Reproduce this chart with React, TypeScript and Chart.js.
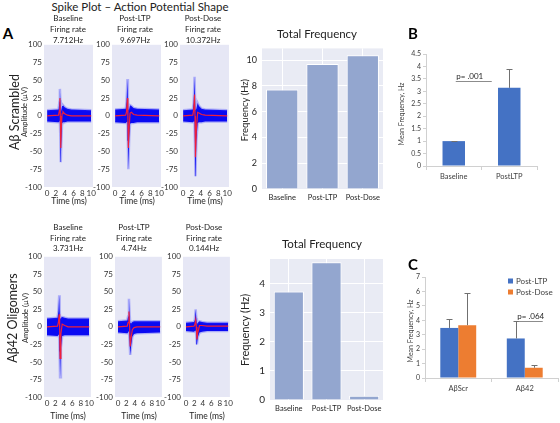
import React, { useEffect, useRef } from "react";
import { Chart, registerables } from "chart.js";

Chart.register(...registerables);
Chart.defaults.font.family = "Lato, 'Open Sans', sans-serif";

// ---------------- data ----------------
const spikeTimeTicks = [0, 2, 4, 6, 8, 10];
const amplitudeTicks = [-100, -75, -50, -25, 0, 25, 50, 75, 100];
const conditions = ["Baseline", "Post-LTP", "Post-Dose"];

// Aβ Scrambled – Baseline
const scrBaseTime = [0, 2.6, 2.8, 2.9, 3.0, 3.1, 3.2, 3.4, 3.6, 4.0, 4.6, 5.5, 10];
const scrBaseUpper = [8, 9, 20, 38, 22, 5, 8, 14, 15, 12, 10, 9, 8];
const scrBaseLower = [-8, -9, -8, -6, -30, -65, -40, -10, -9, -9, -8, -8, -8];
const scrBaseMean = [0, 1, 8, 25, 0, -45, -20, 3, 6, 3, 1, 0, 0];
// Aβ Scrambled – Post-LTP
const scrLtpTime = [0, 2.4, 2.6, 2.8, 2.9, 3.0, 3.2, 3.4, 3.7, 4.2, 5, 10];
const scrLtpUpper = [9, 10, 20, 52, 25, 8, 10, 15, 14, 11, 10, 9];
const scrLtpLower = [-9, -10, -9, -8, -35, -75, -30, -11, -10, -10, -9, -9];
const scrLtpMean = [0, 1, 6, 25, 0, -45, -15, 4, 5, 2, 1, 0];
// Aβ Scrambled – Post-Dose
const scrDoseTime = [0, 2.2, 2.4, 2.6, 2.7, 2.8, 3.0, 3.3, 3.6, 4.2, 5, 10];
const scrDoseUpper = [8, 9, 18, 55, 25, 8, 10, 18, 14, 10, 9, 8];
const scrDoseLower = [-8, -9, -8, -8, -40, -85, -35, -10, -9, -9, -8, -8];
const scrDoseMean = [0, 1, 8, 30, 0, -58, -20, 5, 4, 2, 1, 0];
// Aβ42 Oligomers – Baseline
const oliBaseTime = [0, 2.5, 2.7, 2.9, 3.0, 3.1, 3.3, 3.6, 4.2, 5, 10];
const oliBaseUpper = [12, 13, 22, 45, 25, 12, 13, 14, 13, 12, 12];
const oliBaseLower = [-12, -13, -12, -10, -35, -72, -30, -13, -12, -12, -12];
const oliBaseMean = [0, 1, 6, 18, 0, -45, -10, 4, 2, 0, 0];
// Aβ42 Oligomers – Post-LTP
const oliLtpTime = [0, 2.2, 2.4, 2.6, 2.75, 2.9, 3.1, 3.4, 3.8, 4.5, 10];
const oliLtpUpper = [8, 9, 15, 40, 18, 6, 5, 7, 8, 8, 8];
const oliLtpLower = [-8, -9, -8, -6, -20, -40, -28, -14, -10, -9, -8];
const oliLtpMean = [0, 1, 6, 22, 2, -28, -16, -4, -1, 0, 0];
// Aβ42 Oligomers – Post-Dose
const oliDoseTime = [0, 1.9, 2.1, 2.3, 2.45, 2.6, 2.8, 3.2, 3.8, 5, 10];
const oliDoseUpper = [6, 7, 10, 25, 12, 4, 6, 8, 7, 6, 6];
const oliDoseLower = [-6, -7, -6, -5, -12, -25, -15, -8, -7, -6, -6];
const oliDoseMean = [0, 1, 3, 10, 0, -18, -8, 2, 2, 1, 1];

// Total frequency (Hz)
const scrTotalFreq = [7.712, 9.697, 10.372];
const oliTotalFreq = [3.731, 4.74, 0.144];

// Panel B
const bCategories = ["Baseline", "PostLTP"];
const bMeans = [1.0, 3.14];
const bErrors = [0.02, 0.74];

// Panel C
const cCategories = ["AβScr", "Aβ42"];
const cPostLTP = [3.47, 2.74];
const cPostLTPErr = [0.65, 1.19];
const cPostDose = [3.66, 0.71];
const cPostDoseErr = [2.25, 0.19];

// ---------------- plugins ----------------
const bgPlugin = {
  id: "plotBg",
  beforeDraw(chart: any, _a: any, opts: any) {
    if (!opts || !opts.color) return;
    const { ctx, chartArea } = chart;
    ctx.save();
    ctx.fillStyle = opts.color;
    ctx.fillRect(chartArea.left, chartArea.top, chartArea.right - chartArea.left, chartArea.bottom - chartArea.top);
    ctx.restore();
  },
};

const errorBarPlugin = {
  id: "errorBars",
  afterDatasetsDraw(chart: any) {
    const ctx = chart.ctx;
    const yScale = chart.scales.y;
    chart.data.datasets.forEach((ds: any, i: number) => {
      if (!ds.errors) return;
      const meta = chart.getDatasetMeta(i);
      meta.data.forEach((el: any, j: number) => {
        const v = ds.data[j];
        const e = ds.errors[j];
        const yTop = Math.round(yScale.getPixelForValue(v + e)) + 0.5;
        const x = Math.round(el.x) + 0.5;
        ctx.save();
        ctx.strokeStyle = "#707070";
        ctx.lineWidth = 1;
        ctx.beginPath();
        ctx.moveTo(x, el.y);
        ctx.lineTo(x, yTop);
        ctx.moveTo(x - 3, yTop);
        ctx.lineTo(x + 3, yTop);
        ctx.stroke();
        ctx.restore();
      });
    });
  },
};

const annotPlugin = {
  id: "pAnnot",
  afterDatasetsDraw(chart: any, _a: any, opts: any) {
    if (!opts || !opts.items) return;
    const ctx = chart.ctx;
    const xs = chart.scales.x;
    const ys = chart.scales.y;
    opts.items.forEach((it: any) => {
      const cx = xs.getPixelForValue(it.cat);
      const y = Math.round(ys.getPixelForValue(it.value)) + 0.5;
      ctx.save();
      ctx.strokeStyle = "#8c8c8c";
      ctx.lineWidth = 1;
      ctx.beginPath();
      ctx.moveTo(cx + it.from, y);
      ctx.lineTo(cx + it.to, y);
      ctx.stroke();
      ctx.fillStyle = "#262626";
      ctx.font = "8px Lato, sans-serif";
      ctx.textAlign = "center";
      ctx.textBaseline = "bottom";
      ctx.fillText(it.text, cx + it.textAt, y - 1);
      ctx.restore();
    });
  },
};

const boxLegendPlugin = {
  id: "boxLegend",
  afterDraw(chart: any, _a: any, opts: any) {
    if (!opts || opts.x === undefined) return;
    const ctx = chart.ctx;
    chart.data.datasets.forEach((ds: any, i: number) => {
      const cy = opts.y + i * opts.gap;
      ctx.save();
      ctx.fillStyle = ds.backgroundColor;
      ctx.fillRect(opts.x, cy - 2.5, 5, 5);
      ctx.fillStyle = "#404040";
      ctx.font = "8px Lato, sans-serif";
      ctx.textAlign = "left";
      ctx.textBaseline = "middle";
      ctx.fillText(ds.label, opts.x + 8, cy);
      ctx.restore();
    });
  },
};

// ---------------- config builders ----------------
function spikeConfig(time: number[], upper: number[], lower: number[], mean: number[], wy: number, pt: number, pr: number, hx: number) {
  const pts = (ys: number[]) => time.map((t, i) => ({ x: t, y: ys[i] }));
  return {
    type: "line",
    data: {
      datasets: [
        { data: pts(upper), borderColor: "rgba(40,40,255,0.3)", borderWidth: 2.5, backgroundColor: "#0a0af2", fill: "+1", pointRadius: 0, tension: 0, order: 1 },
        { data: pts(lower), borderColor: "rgba(40,40,255,0.3)", borderWidth: 2.5, fill: false, pointRadius: 0, tension: 0, order: 1 },
        { data: pts(mean), borderColor: "#f0203a", borderWidth: 1.2, fill: false, pointRadius: 0, tension: 0, order: 0 },
      ],
    },
    options: {
      animation: false,
      responsive: false,
      events: [],
      layout: { autoPadding: false, padding: { top: pt, right: pr, left: 0, bottom: 0 } },
      plugins: { legend: { display: false }, tooltip: { enabled: false }, plotBg: { color: "#e6e7f5" } },
      scales: {
        x: {
          type: "linear",
          min: -0.7,
          max: 10.4,
          afterBuildTicks: (s: any) => { s.ticks = spikeTimeTicks.map((v) => ({ value: v })); },
          afterFit: (s: any) => { s.height = hx; },
          grid: { display: false, drawTicks: false },
          border: { display: false },
          ticks: { font: { size: 8 }, color: "#333", padding: 2, maxRotation: 0, autoSkip: false },
        },
        y: {
          min: -100,
          max: 100,
          afterBuildTicks: (s: any) => { s.ticks = amplitudeTicks.map((v) => ({ value: v })); },
          afterFit: (s: any) => { s.width = wy; },
          grid: { display: false, drawTicks: false },
          border: { display: false },
          ticks: { font: { size: 8 }, color: "#333", padding: 2, autoSkip: false },
        },
      },
    },
    plugins: [bgPlugin],
  };
}

function totalFreqConfig(values: number[], yMax: number, yStep: number, yFont: number, wy: number, pt: number, pr: number, hx: number) {
  return {
    type: "bar",
    data: {
      labels: conditions,
      datasets: [{ data: values, backgroundColor: "#93a6cf", borderColor: "#ffffff", borderWidth: 1, barPercentage: 0.8, categoryPercentage: 1 }],
    },
    options: {
      animation: false,
      responsive: false,
      events: [],
      layout: { autoPadding: false, padding: { top: pt, right: pr, left: 0, bottom: 0 } },
      plugins: { legend: { display: false }, tooltip: { enabled: false }, plotBg: { color: "#e9ebf4" } },
      scales: {
        x: {
          afterFit: (s: any) => { s.height = hx; },
          grid: { color: "#ffffff", offset: false, drawTicks: false },
          border: { display: false },
          ticks: { font: { size: 7.5 }, color: "#262626", padding: 4, maxRotation: 0, autoSkip: false },
        },
        y: {
          min: 0,
          max: yMax,
          afterBuildTicks: (s: any) => {
            s.ticks = s.ticks.filter((t: any) => Math.abs(t.value / yStep - Math.round(t.value / yStep)) < 1e-6);
          },
          afterFit: (s: any) => { s.width = wy; },
          grid: { color: "#ffffff", drawTicks: false },
          border: { display: false },
          ticks: { stepSize: yStep, font: { size: yFont }, color: "#262626", padding: 5 },
        },
      },
    },
    plugins: [bgPlugin],
  };
}

function excelAxes(yMax: number, yStep: number, wy: number, hx: number) {
  return {
    x: {
      afterFit: (s: any) => { s.height = hx; },
      grid: { display: true, drawOnChartArea: false, drawTicks: true, tickLength: 4, color: "#d0d0d0", offset: true },
      border: { color: "#d0d0d0" },
      ticks: { font: { size: 7.5 }, color: "#404040", padding: 2, maxRotation: 0, autoSkip: false },
    },
    y: {
      min: 0,
      max: yMax,
      afterFit: (s: any) => { s.width = wy; },
      grid: { display: true, drawOnChartArea: false, drawTicks: true, tickLength: 3, color: "#d0d0d0" },
      border: { color: "#d0d0d0" },
      ticks: { stepSize: yStep, font: { size: 7 }, color: "#404040", padding: 2, callback: (v: any) => String(Number(v)) },
    },
  };
}

function panelBConfig() {
  return {
    type: "bar",
    data: {
      labels: bCategories,
      datasets: [{ label: "Mean", data: bMeans, errors: bErrors, backgroundColor: "#4472c4", barPercentage: 0.405, categoryPercentage: 1 }],
    },
    options: {
      animation: false,
      responsive: false,
      events: [],
      layout: { autoPadding: false, padding: { top: 14, right: 8, left: 0, bottom: 0 } },
      plugins: {
        legend: { display: false },
        tooltip: { enabled: false },
        pAnnot: { items: [{ cat: 0, from: 2, to: 38, textAt: 16, value: 3.43, text: "p= .001" }] },
      },
      scales: excelAxes(4.5, 0.5, 31, 24),
    },
    plugins: [errorBarPlugin, annotPlugin],
  };
}

function panelCConfig() {
  return {
    type: "bar",
    data: {
      labels: cCategories,
      datasets: [
        { label: "Post-LTP", data: cPostLTP, errors: cPostLTPErr, backgroundColor: "#4472c4", barPercentage: 1, categoryPercentage: 0.54 },
        { label: "Post-Dose", data: cPostDose, errors: cPostDoseErr, backgroundColor: "#ed7d31", barPercentage: 1, categoryPercentage: 0.54 },
      ],
    },
    options: {
      animation: false,
      responsive: false,
      events: [],
      layout: { autoPadding: false, padding: { top: 12, right: 2, left: 0, bottom: 0 } },
      plugins: {
        legend: { display: false },
        tooltip: { enabled: false },
        pAnnot: { items: [{ cat: 1, from: -6, to: 18, textAt: 6, value: 3.97, text: "p= .064" }] },
        boxLegend: { x: 113, y: 16, gap: 11 },
      },
      scales: excelAxes(7, 1, 30, 22),
    },
    plugins: [errorBarPlugin, annotPlugin, boxLegendPlugin],
  };
}

// ---------------- components ----------------
function ChartBox({ left, top, width, height, make }: { left: number; top: number; width: number; height: number; make: () => any }) {
  const ref = useRef<HTMLCanvasElement>(null);
  useEffect(() => {
    const chart = new Chart(ref.current as HTMLCanvasElement, make());
    return () => chart.destroy();
  }, []);
  return <canvas ref={ref} width={width} height={height} style={{ position: "absolute", left, top, width, height }} />;
}

function Label({ x, y, text, size, bold, rotate, color }: { x: number; y: number; text: string; size: number; bold?: boolean; rotate?: boolean; color?: string }) {
  return (
    <div
      style={{
        position: "absolute",
        left: x,
        top: y,
        transform: `translate(-50%,-50%)${rotate ? " rotate(-90deg)" : ""}`,
        fontSize: size,
        fontWeight: bold ? 700 : 400,
        color: color || "#222",
        whiteSpace: "nowrap",
        fontFamily: "Lato, 'Open Sans', sans-serif",
        lineHeight: 1,
      }}
    >
      {text}
    </div>
  );
}

const topLefts = [44, 112, 180];
const botLefts = [44, 115, 183];
const scrSpikes = [
  [scrBaseTime, scrBaseUpper, scrBaseLower, scrBaseMean],
  [scrLtpTime, scrLtpUpper, scrLtpLower, scrLtpMean],
  [scrDoseTime, scrDoseUpper, scrDoseLower, scrDoseMean],
];
const oliSpikes = [
  [oliBaseTime, oliBaseUpper, oliBaseLower, oliBaseMean],
  [oliLtpTime, oliLtpUpper, oliLtpLower, oliLtpMean],
  [oliDoseTime, oliDoseUpper, oliDoseLower, oliDoseMean],
];
const topHeadX = [68, 135, 203];
const botHeadX = [68, 134, 204];

export default function App() {
  return (
    <div style={{ position: "absolute", left: 0, top: 0, width: 560, height: 423, background: "#ffffff", overflow: "hidden" }}>
      {scrSpikes.map((s, i) => (
        <ChartBox key={"ts" + i} left={topLefts[i] - 24} top={38} width={78} height={170}
          make={() => spikeConfig(s[0], s[1], s[2], s[3], 24, 5, 4, 21)} />
      ))}
      {oliSpikes.map((s, i) => (
        <ChartBox key={"bs" + i} left={botLefts[i] - 24} top={250} width={76} height={165}
          make={() => spikeConfig(s[0], s[1], s[2], s[3], 24, 5, 4, 18)} />
      ))}

      <ChartBox left={236} top={38} width={150} height={170} make={() => totalFreqConfig(scrTotalFreq, 10.9, 2, 9, 26, 5, 3, 19)} />
      <ChartBox left={240} top={248} width={146} height={170} make={() => totalFreqConfig(oliTotalFreq, 4.85, 1, 10, 30, 5, 3, 18)} />

      <ChartBox left={395} top={40} width={150} height={150} make={panelBConfig} />
      <ChartBox left={395} top={265} width={165} height={135} make={panelCConfig} />

      <Label x={140} y={7} text="Spike Plot – Action Potential Shape" size={11.5} />
      <Label x={8} y={33} text="A" size={15} bold color="#000" />
      <Label x={15} y={112} text="Aβ Scrambled" size={12.5} rotate />
      <Label x={13} y={318} text="Aβ42 Oligomers" size={12.5} rotate />
      <Label x={25} y={112} text="Amplitude (µV)" size={7.5} rotate />
      <Label x={26} y={318} text="Amplitude (µV)" size={7.5} rotate />

      {conditions.map((c, i) => (
        <React.Fragment key={"th" + i}>
          <Label x={topHeadX[i]} y={18} text={c} size={8} />
          <Label x={topHeadX[i]} y={29} text="Firing rate" size={8} />
          <Label x={topHeadX[i]} y={40} text={`${scrTotalFreq[i]}Hz`} size={8} />
          <Label x={botHeadX[i]} y={227} text={c} size={8} />
          <Label x={botHeadX[i]} y={238} text="Firing rate" size={8} />
          <Label x={botHeadX[i]} y={248} text={`${oliTotalFreq[i]}Hz`} size={8} />
          <Label x={topLefts[i] + 25} y={201} text="Time (ms)" size={8.5} />
          <Label x={botLefts[i] + 24} y={416} text="Time (ms)" size={8.5} />
        </React.Fragment>
      ))}

      <Label x={317} y={34} text="Total Frequency" size={11.5} />
      <Label x={322} y={244} text="Total Frequency" size={11.5} />
      <Label x={245} y={110} text="Frequency (Hz)" size={9.5} rotate color="#262626" />
      <Label x={244} y={330} text="Frequency (Hz)" size={11} rotate color="#262626" />

      <Label x={413} y={33} text="B" size={15} bold color="#000" />
      <Label x={413} y={264} text="C" size={15} bold color="#000" />
      <Label x={401} y={114} text="Mean Frequency, Hz" size={7} rotate color="#404040" />
      <Label x={410} y={331} text="Mean Frequency, Hz" size={7} rotate color="#404040" />
    </div>
  );
}
